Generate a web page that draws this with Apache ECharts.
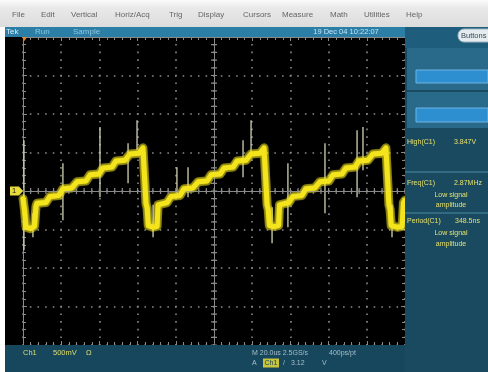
<!DOCTYPE html>
<html>
<head>
<meta charset="utf-8">
<script src="https://cdn.jsdelivr.net/npm/echarts@6/dist/echarts.min.js"></script>
<style>
html,body{margin:0;padding:0;background:#fff;}
#scope{width:488px;height:372px;}
</style>
</head>
<body>
<div id="scope"></div>
<script>
// Ch1 acquisition: time in microseconds (20 us/div, trigger at centre),
// voltage relative to the Ch1 ground marker (500 mV/div).
const traceT = [
  -100, -99.2, -98.4, -96, -94, -93.2,
  -92.7, -88.0, -85.9, -81.2, -79.1, -74.4, -71.7, -67.0, -64.9, -60.2, -58.1, -53.4, -51.3, -46.6, -44.0, -39.3, -37.2,
  -36.6, -35.6, -35.0, -34.4, -32.0, -29.8, -29.3,
  -28.8, -24.6, -22.5, -17.8, -15.7, -11.0, -8.3, -3.6, -1.5, 3.2, 5.3, 10.0, 12.1, 16.8, 19.4, 24.1, 26.2,
  26.8, 27.8, 28.4, 29.0, 31.5, 33.8, 34.3,
  34.8, 39.2, 41.3, 46.0, 48.1, 52.8, 55.5, 60.2, 62.3, 67.0, 69.1, 73.8, 75.9, 80.6, 83.2, 87.9, 90.0,
  90.6, 91.6, 92.2, 92.8, 96.0, 98.5, 99.2, 100
];
const traceV = [
  -0.10, -0.25, -0.47, -0.49, -0.46, -0.20,
  -0.16, -0.15, -0.07, -0.06, 0.03, 0.04, 0.12, 0.13, 0.21, 0.22, 0.30, 0.31, 0.39, 0.40, 0.48, 0.49, 0.56,
  0.54, -0.16, -0.22, -0.45, -0.47, -0.46, -0.18,
  -0.16, -0.15, -0.07, -0.06, 0.03, 0.04, 0.12, 0.13, 0.21, 0.22, 0.30, 0.31, 0.39, 0.40, 0.48, 0.49, 0.56,
  0.54, -0.18, -0.24, -0.45, -0.46, -0.45, -0.18,
  -0.16, -0.15, -0.07, -0.06, 0.03, 0.04, 0.12, 0.13, 0.21, 0.22, 0.30, 0.31, 0.39, 0.40, 0.48, 0.49, 0.56,
  0.54, -0.18, -0.24, -0.45, -0.47, -0.46, -0.15, -0.12
];
// Switching glitches riding on the ramp: time, upper and lower excursion (V)
const spikeT  = [-99.5, -94.8, -79.1, -59.7, -45.0, -40.3, -31.9, -19.4, -13.6, 15.2, 19.4, 30.4, 38.7, 58.1, 74.9, 78.0, 93.2];
const spikeHi = [ 0.66, -0.29,  0.36,  0.83,  0.62,  0.92, -0.18,  0.31,  0.31, 0.66, 0.92, -0.21, 0.36, 0.62, 0.79, 0.83, -0.18];
const spikeLo = [-0.77, -0.60, -0.38, -0.08,  0.10,  0.53, -0.60, -0.08, -0.08, 0.18, 0.49, -0.68, -0.47, -0.29, -0.08, 0.27, -0.60];

const menuItems = ['File', 'Edit', 'Vertical', 'Horiz/Acq', 'Trig', 'Display', 'Cursors', 'Measure', 'Math', 'Utilities', 'Help'];
const measNames = ['High(C1)', 'Freq(C1)', 'Period(C1)'];
const measValues = ['3.847V', '2.87MHz', '348.5ns'];
const dateText = '19 Dec 04 10:22:07';

const FONT = '"Liberation Sans", Arial, sans-serif';
const GRID = { left: 23, top: 37, width: 382, height: 308 };
const GRAT = '#8a8a8a';

const chart = echarts.init(document.getElementById('scope'), null, { renderer: 'canvas' });

function txt(text, x, y, fill, size, align, extra) {
  return Object.assign({
    type: 'text', z: 100, silent: true,
    style: { text: text, x: x, y: y, fill: fill, font: size + 'px ' + FONT,
             textAlign: align || 'left', textVerticalAlign: 'middle',
             align: align || 'left', verticalAlign: 'middle' }
  }, extra || {});
}
function box(x, y, w, h, fill, extra) {
  return Object.assign({ type: 'rect', z: 90, silent: true, shape: { x: x, y: y, width: w, height: h }, style: { fill: fill } }, extra || {});
}

const menuX = [12, 41, 71, 115, 169, 198, 243, 282, 330, 364, 406];
const ui = [
  box(0, 0, 5, 372, '#ffffff'),
  box(0, 0, 488, 27, new echarts.graphic.LinearGradient(0, 0, 0, 1, [
    { offset: 0, color: '#fbfbfb' }, { offset: 0.3, color: '#e9e9e9' }, { offset: 1, color: '#dcdcdc' }])),
  box(5, 27, 400, 10, '#2b7ea6'),
  box(405, 27, 83, 345, '#1a4a60'),
  box(405, 27, 83, 21, '#1f5d7c'),
  box(407, 48, 81, 42, '#29698a'),
  box(416, 70, 72, 13, '#2e8fd0', { style: { fill: '#2e8fd0', stroke: '#6fb6e4', lineWidth: 1 } }),
  box(407, 92, 81, 36, '#29698a'),
  box(416, 108, 72, 14, '#2e8fd0', { style: { fill: '#2e8fd0', stroke: '#6fb6e4', lineWidth: 1 } }),
  { type: 'line', z: 95, silent: true, shape: { x1: 405, y1: 172, x2: 488, y2: 172 }, style: { stroke: '#4a8aa5', lineWidth: 1 } },
  { type: 'line', z: 95, silent: true, shape: { x1: 405, y1: 213, x2: 488, y2: 213 }, style: { stroke: '#4a8aa5', lineWidth: 1 } },
  { type: 'rect', z: 95, silent: true, shape: { x: 458, y: 29, width: 38, height: 13, r: 6 },
    style: { fill: '#e4ecf0', stroke: '#9fb3be', lineWidth: 1 } },
  txt('Buttons', 461, 35.5, '#3a4a55', 7.5),
  box(5, 345, 400, 27, '#17475c'),
  txt('Tek', 6, 32, '#dcefF8', 8),
  txt('Run', 35, 32, '#8cc6e0', 8),
  txt('Sample', 73, 32, '#8cc6e0', 8),
  txt(dateText, 346, 32, '#c3e4f4', 7.5, 'center'),
  txt('Ch1', 23, 353, '#dede6c', 7.5),
  txt('500mV', 53, 353, '#dede6c', 7.5),
  txt('\u03a9', 86, 353, '#dede6c', 7.5),
  txt('M 20.0us 2.5GS/s', 252, 353, '#a7bfcb', 7),
  txt('400ps/pt', 329, 353, '#a7bfcb', 7),
  txt('A', 252, 363, '#a7bfcb', 7),
  box(263, 358.5, 16, 9, '#c8c43c', { z: 99 }),
  txt('Ch1', 264.5, 363, '#17475c', 7),
  txt('/', 283, 363, '#a7bfcb', 7),
  txt('3.12', 291, 363, '#a7bfcb', 7),
  txt('V', 322, 363, '#a7bfcb', 7),
  txt(measNames[0], 407, 142, '#e6e06c', 7),
  txt(measValues[0], 454, 142, '#e6e06c', 7),
  txt(measNames[1], 407, 183, '#e6e06c', 7),
  txt(measValues[1], 454, 183, '#e6e06c', 7),
  txt('Low signal', 451, 195, '#e6e06c', 7, 'center'),
  txt('amplitude', 451, 205, '#e6e06c', 7, 'center'),
  txt(measNames[2], 407, 221, '#e6e06c', 7),
  txt(measValues[2], 455, 221, '#e6e06c', 7),
  txt('Low signal', 451, 233, '#e6e06c', 7, 'center'),
  txt('amplitude', 451, 244, '#e6e06c', 7, 'center')
];
menuItems.forEach(function (m, i) { ui.push(txt(m, menuX[i], 15, '#666666', 8)); });

function borderAxis(pos) {
  return {
    type: 'value', position: pos, min: -100, max: 100, interval: 20,
    axisLine: { show: true, onZero: false, lineStyle: { color: GRAT, width: 1 } },
    axisTick: { show: true, inside: true, length: 4, lineStyle: { color: GRAT } },
    minorTick: { show: true, splitNumber: 5, length: 3, lineStyle: { color: GRAT } },
    axisLabel: { show: false }, splitLine: { show: false }
  };
}
function borderYAxis(pos) {
  return {
    type: 'value', position: pos, min: -2, max: 2, interval: 0.5,
    axisLine: { show: true, onZero: false, lineStyle: { color: GRAT, width: 1 } },
    axisTick: { show: true, inside: true, length: 4, lineStyle: { color: GRAT } },
    minorTick: { show: true, splitNumber: 5, length: 3, lineStyle: { color: GRAT } },
    axisLabel: { show: false }, splitLine: { show: false }
  };
}
const xBottom = borderAxis('bottom');
xBottom.splitLine = { show: true, lineStyle: { color: GRAT, width: 1.6, type: [1.6, 6.1], dashOffset: 0.8 } };
const yLeft = borderYAxis('left');
yLeft.splitLine = { show: true, lineStyle: { color: GRAT, width: 1.6, type: [1.6, 6.04], dashOffset: 0.8 } };

const tracePoints = traceT.map(function (t, i) { return [t, traceV[i]]; });

chart.setOption({
  backgroundColor: '#000000',
  animation: false,
  grid: GRID,
  xAxis: [xBottom, borderAxis('top')],
  yAxis: [yLeft, borderYAxis('right')],
  graphic: { elements: ui },
  series: [
    {
      // centre graticule cross with its minor-division ticks
      type: 'line', data: [], silent: true, z: 1,
      markLine: {
        silent: true, symbol: 'none', label: { show: false }, animation: false,
        data: [
          { yAxis: 0, lineStyle: { color: GRAT, width: 1, type: 'solid' } },
          { yAxis: 0, lineStyle: { color: GRAT, width: 6, type: [1.2, 6.44], dashOffset: 0.6 } },
          { xAxis: 0, lineStyle: { color: GRAT, width: 1, type: 'solid' } },
          { xAxis: 0, lineStyle: { color: GRAT, width: 6, type: [1.2, 6.5], dashOffset: 0.6 } }
        ]
      }
    },
    {
      type: 'custom', silent: true, z: 3,
      encode: { x: 0, y: [1, 2] },
      data: spikeT.map(function (t, i) { return [t, spikeHi[i], spikeLo[i]]; }),
      renderItem: function (params, api) {
        const a = api.coord([api.value(0), api.value(1)]);
        const b = api.coord([api.value(0), api.value(2)]);
        return { type: 'line', shape: { x1: a[0], y1: a[1], x2: b[0], y2: b[1] },
                 style: { stroke: '#d2d2b4', lineWidth: 1.3 } };
      }
    },
    {
      type: 'line', silent: true, z: 4, showSymbol: false, symbol: 'none',
      data: tracePoints,
      lineStyle: { color: 'rgba(240,226,30,0.5)', width: 9, join: 'round', cap: 'round' }
    },
    {
      type: 'line', silent: true, z: 5, showSymbol: false, symbol: 'none',
      data: tracePoints,
      lineStyle: { color: '#f4e41c', width: 5, join: 'round', cap: 'round',
                   shadowBlur: 3, shadowColor: 'rgba(255,240,40,0.8)' }
    }
  ]
});

// Ch1 ground-reference marker and trigger-position marker, placed with the chart's own scale
const gy = chart.convertToPixel({ yAxisIndex: 0 }, 0);
const tx = chart.convertToPixel({ xAxisIndex: 0 }, -100);
chart.setOption({
  graphic: { elements: ui.concat([
    { type: 'polygon', z: 100, silent: true,
      shape: { points: [[10, gy - 4.5], [19, gy - 4.5], [23, gy], [19, gy + 4.5], [10, gy + 4.5]] },
      style: { fill: '#e8dc3c' } },
    txt('1', 12, gy, '#1a1a1a', 7.5),
    { type: 'polygon', z: 100, silent: true,
      shape: { points: [[tx - 1, 37], [tx + 4, 37], [tx + 1.5, 41]] },
      style: { fill: '#e08a2a' } }
  ]) }
});
</script>
</body>
</html>
